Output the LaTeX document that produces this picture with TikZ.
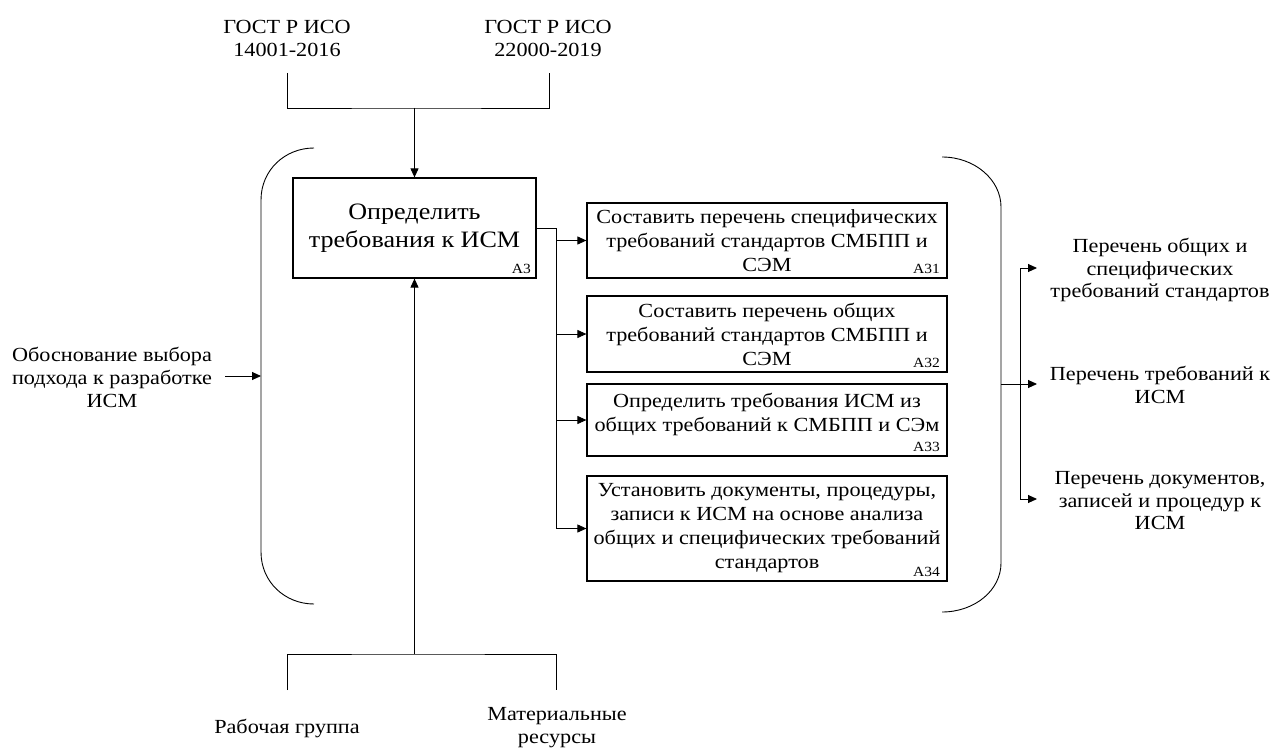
\documentclass[tikz,border=0pt]{standalone}
\usepackage{fontspec}
\setmainfont[FakeStretch=1.11]{Liberation Serif}
\usetikzlibrary{arrows.meta}
\begin{document}
\begin{tikzpicture}[x=1pt,y=-1pt,
  ln/.style={line width=0.9pt},
  arr/.style={line width=0.9pt,-{Triangle[length=9pt,width=8pt]}},
  box/.style={draw,line width=1.2pt,inner sep=0pt},
  lbl/.style={align=center,inner sep=0pt,font=\fontsize{20}{23}\selectfont},
  olbl/.style={align=center,inner sep=0pt,font=\fontsize{20}{22.5}\selectfont},
  btxt/.style={align=center,inner sep=0pt,font=\fontsize{20}{24}\selectfont},
  code/.style={inner sep=0pt,font=\fontsize{14}{16}\selectfont,anchor=south east}]
\useasboundingbox (0,0) rectangle (1274,749);

% top controls
\node[lbl] (g1) at (287,38) {ГОСТ Р ИСО\\14001-2016};
\node[lbl] (g2) at (548,38) {ГОСТ Р ИСО\\22000-2019};
\coordinate (g1e) at (287,73);
\coordinate (g2e) at (549,73);
\coordinate (tj) at (414.5,108);

% main box
\node[box,minimum width=243pt,minimum height=100pt] (a3) at (414.5,228) {};
\node[align=center,inner sep=0pt,font=\fontsize{23.5}{28}\selectfont] (a3t) at (414.5,228) {Определить\\требования к ИСМ};
\node[code] (a3c) at (531,274) {A3};

% sub boxes
\node[box,minimum width=360pt,minimum height=75pt] (a31) at (767,240.5) {};
\node[btxt] (a31t) at (767,241) {Составить перечень специфических\\требований стандартов СМБПП и\\СЭМ};
\node[code] (a31c) at (940,274) {A31};

\node[box,minimum width=360pt,minimum height=76pt] (a32) at (767,334) {};
\node[btxt] (a32t) at (767,334) {Составить перечень общих\\требований стандартов СМБПП и\\СЭМ};
\node[code] (a32c) at (940,368) {A32};

\node[box,minimum width=360pt,minimum height=72pt] (a33) at (767,420) {};
\node[btxt] (a33t) at (767,414) {Определить требования ИСМ из\\общих требований к СМБПП и СЭм};
\node[code] (a33c) at (940,452) {A33};

\node[box,minimum width=360pt,minimum height=105pt] (a34) at (767,528.5) {};
\node[btxt] (a34t) at (767,528) {Установить документы, процедуры,\\записи к ИСМ на основе анализа\\общих и специфических требований\\стандартов};
\node[code] (a34c) at (940,577) {A34};

% brackets
\draw[ln] (314,148) .. controls (285,148) and (261,170) .. (261,200) -- (261,552)
  .. controls (261,582) and (285,604) .. (314,604);
\draw[ln] (942,157) .. controls (975,157) and (1001,180) .. (1001,207) -- (1001,563)
  .. controls (1001,590) and (975,612) .. (942,612);

% input
\node[lbl] (inp) at (112,377) {Обоснование выбора\\подхода к разработке\\ИСМ};
\coordinate (ie) at (225,376);
\coordinate (ib) at (261,376);
\draw[arr] (ie) -- (ib);

% mechanisms
\node[lbl] (m1) at (287,728) {Рабочая группа};
\node[lbl] (m2) at (557,728) {Материальные\\ресурсы};
\coordinate (m1e) at (287,690);
\coordinate (m2e) at (556,690);
\coordinate (bj) at (414.5,654);

% outputs
\node[olbl] (o1) at (1160,270) {Перечень общих и\\специфических\\требований стандартов};
\node[olbl] (o2) at (1160,385) {Перечень требований к\\ИСМ};
\node[olbl] (o3) at (1160,501) {Перечень документов,\\записей и процедур к\\ИСМ};
\coordinate (ro) at (1001,384);
\coordinate (rv) at (1020,384);
\coordinate (t1) at (1037,268);
\coordinate (t2) at (1037,384);
\coordinate (t3) at (1037,499);

% connectors
\draw[ln] (g1e) |- (tj) -| (g2e);
\draw[arr] (tj) -- (a3);
\draw[ln] (m1e) |- (bj) -| (m2e);
\draw[arr] (bj) -- (a3);

\coordinate (sp) at (556,228);
\draw[ln] (a3.east) -- (sp) -- (sp |- a34);
\draw[arr] (sp |- a31) -- (a31);
\draw[arr] (sp |- a32) -- (a32);
\draw[arr] (sp |- a33) -- (a33);
\draw[arr] (sp |- a34) -- (a34);

\draw[ln] (rv |- t1) -- (rv |- t3);
\draw[arr] (rv |- t1) -- (t1);
\draw[arr] (rv |- t3) -- (t3);
\draw[arr] (ro) -- (t2);
\end{tikzpicture}
\end{document}
